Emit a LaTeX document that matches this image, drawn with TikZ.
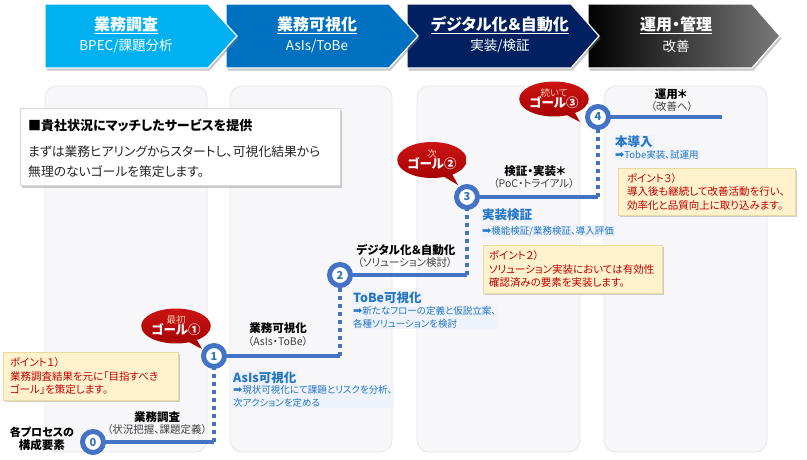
\documentclass[tikz,border=0pt]{standalone}
\usepackage{fontspec}
\setmainfont{Noto Sans CJK JP}[RawFeature=+palt]
\newfontfamily\djv{DejaVu Sans}
\usetikzlibrary{shapes.callouts,shadows}
\definecolor{chevA}{HTML}{00B0F0}
\definecolor{chevB}{HTML}{0070C0}
\definecolor{chevC}{HTML}{002060}
\definecolor{chevDr}{HTML}{7A7A7A}
\definecolor{panelfill}{HTML}{F7F7F9}
\definecolor{panelline}{HTML}{E6E6EA}
\definecolor{stepblue}{HTML}{4472C4}
\definecolor{digitblue}{HTML}{2E75B6}
\definecolor{labelblue}{HTML}{2375C5}
\definecolor{hlfill}{HTML}{EEF2FA}
\definecolor{pointfill}{HTML}{FFF2CC}
\definecolor{pointline}{HTML}{EAD9A0}
\definecolor{pointtext}{HTML}{C00000}
\definecolor{goaltop}{HTML}{CC1414}
\definecolor{goalbot}{HTML}{A00000}
\definecolor{goalsmall}{HTML}{F8CBAD}
\definecolor{subgray}{HTML}{404040}
\pgfdeclarelayer{bgfill}
\pgfdeclarelayer{back}
\pgfdeclarelayer{mid}
\pgfsetlayers{bgfill,back,mid,main}
\tikzset{
  panel/.style={fill=panelfill, draw=panelline, line width=0.8pt, rounded corners=12pt},
  chevshape/.style={draw=white, line width=1.2pt, drop shadow={shadow xshift=1.5pt, shadow yshift=-2.5pt, opacity=0.45}},
  chevtitle/.style={text=white, font=\bfseries\fontsize{16}{18}\selectfont, inner sep=0pt},
  chevsub/.style={text=white, font=\fontsize{13.5}{15}\selectfont, inner sep=0pt},
  stepline/.style={draw=stepblue, line width=4pt},
  dotline/.style={draw=stepblue, line width=4pt, dash pattern=on 4pt off 4pt},
  stepnode/.style={circle, draw=stepblue, line width=5pt, fill=white, minimum size=21pt, inner sep=0pt, text=digitblue, font=\bfseries\fontsize{11}{11}\selectfont},
  steptitle/.style={font=\bfseries\fontsize{11.5}{13}\selectfont, inner sep=0pt, align=center},
  stepsub/.style={font=\fontsize{10.5}{12}\selectfont, text=subgray, inner sep=0pt},
  bluetitle/.style={anchor=west, fill=hlfill, text=labelblue, font=\bfseries\fontsize{12.5}{14}\selectfont, inner sep=1pt},
  bluedesc/.style={anchor=west, fill=hlfill, text=labelblue, align=left, font=\fontsize{9.5}{13}\selectfont, inner sep=1pt},
  pointbox/.style={fill=pointfill, draw=pointline, line width=0.6pt, text=pointtext, align=left, font=\fontsize{10.5}{13.5}\selectfont, inner sep=0pt, drop shadow={shadow xshift=2pt, shadow yshift=-2pt, opacity=0.35}},
  goal/.style={ellipse callout, top color=goaltop, bottom color=goalbot, draw=none, inner sep=0pt, align=center, text=white},
}
\newcommand{\rarr}{{\djv\fontsize{11}{11}\selectfont ➡}}
\begin{document}
\begin{tikzpicture}[x=1pt,y=-1pt]
\useasboundingbox (0,0) rectangle (807,459);
\begin{pgfonlayer}{bgfill}
\fill[white] (0,0) rectangle (807,459);
\end{pgfonlayer}
% panels
\begin{pgfonlayer}{back}
\draw[panel] (45,86) rectangle (207,452);
\draw[panel] (230,86) rectangle (392,452);
\draw[panel] (417,86) rectangle (580,452);
\draw[panel] (604,86) rectangle (767,452);
\end{pgfonlayer}
% chevrons (right to left so tips overlap)
\path[chevshape, left color=black, right color=chevDr] (588,4) -- (752,4) -- (780,36) -- (752,68) -- (588,68) -- cycle;
\path[chevshape, fill=chevC] (407,4) -- (571,4) -- (599,36) -- (571,68) -- (407,68) -- cycle;
\path[chevshape, fill=chevB] (226,4) -- (389,4) -- (418,36) -- (389,68) -- (226,68) -- cycle;
\path[chevshape, fill=chevA] (45,4) -- (208,4) -- (237,36) -- (208,68) -- (45,68) -- cycle;
\node[chevtitle] (t1) at (126,25) {\underline{業務調査}};
\node[chevsub] (s1) at (126,46) {BPEC/課題分析};
\node[chevtitle] (t2) at (317,25) {\underline{業務可視化}};
\node[chevsub] (s2) at (317,46) {AsIs/ToBe};
\node[chevtitle] (t3) at (500,25) {\underline{デジタル化＆自動化}};
\node[chevsub] (s3) at (500,46) {実装/検証};
\node[chevtitle] (t4) at (676,25) {\underline{運用・管理}};
\node[chevsub] (s4) at (676,46) {改善};
% main box
\node[fill=white, draw=black!15, line width=0.5pt, minimum width=320pt, minimum height=77pt, inner sep=0pt, drop shadow={shadow xshift=2pt, shadow yshift=-2.5pt, opacity=0.4}] (mainbox) at (180,146.5) {};
\node[anchor=west, inner sep=0pt, font=\bfseries\fontsize{13}{15}\selectfont] (mainhead) at (28,125) {■貴社状況にマッチしたサービスを提供};
\node[anchor=west, inner sep=0pt, align=left, font=\fontsize{12.8}{20}\selectfont, text=black!85] (mainbody) at (28,162) {まずは業務ヒアリングからスタートし、可視化結果から\\無理のないゴールを策定します。};
% step nodes
\node[stepnode] (n0) at (93,442) {0};
\node[stepnode] (n1) at (214,356) {1};
\node[stepnode] (n2) at (340,275) {2};
\node[stepnode] (n3) at (467,197) {3};
\node[stepnode] (n4) at (598,117) {4};
\coordinate (e4) at (722,117);
\begin{pgfonlayer}{mid}
\draw[stepline] (n0.center) -- (n0 -| n1);
\draw[dotline] (n0 -| n1) -- (n1.center);
\draw[stepline] (n1.center) -- (n1 -| n2);
\draw[dotline] (n1 -| n2) -- (n2.center);
\draw[stepline] (n2.center) -- (n2 -| n3);
\draw[dotline] (n2 -| n3) -- (n3.center);
\draw[stepline] (n3.center) -- (n3 -| n4);
\draw[dotline] (n3 -| n4) -- (n4.center);
\draw[stepline] (n4.center) -- (e4);
\end{pgfonlayer}
% step labels
\node[steptitle] (l0c) at (42,438.5) {\fontsize{11}{13}\selectfont 各プロセスの\\構成要素};
\node[steptitle] (l0a) at (157,417) {業務調査};
\node[stepsub] (l0b) at (157,430) {（状況把握、課題定義）};
\node[steptitle] (l1a) at (278,328) {業務可視化};
\node[stepsub] (l1b) at (278,342) {（AsIs・ToBe）};
\node[steptitle] (l2a) at (406,250) {デジタル化＆自動化};
\node[stepsub] (l2b) at (405,263) {（ソリューション検討）};
\node[steptitle] (l3a) at (535,171) {検証・実装＊};
\node[stepsub] (l3b) at (534,184) {（PoC・トライアル）};
\node[steptitle] (l4a) at (671,94) {運用＊};
\node[stepsub] (l4b) at (672,107) {（改善へ）};
% blue labels
\node[bluetitle] (b1) at (232,378) {AsIs可視化};
\node[bluedesc] (b1d) at (232,396.5) {\rarr 現状可視化にて課題とリスクを分析、\\次アクションを定める};
\node[bluetitle] (b2) at (352,298) {ToBe可視化};
\node[bluedesc] (b2d) at (352,317.5) {\rarr 新たなフローの定義と仮説立案、\\各種ソリューションを検討};
\node[bluetitle] (b3) at (481,215) {実装検証};
\node[bluedesc] (b3d) at (481,231) {\rarr 機能検証/業務検証、導入評価};
\node[bluetitle] (b4) at (614,142) {本導入};
\node[bluedesc] (b4d) at (614,155) {\rarr Tobe実装、試運用};
% point boxes
\node[pointbox, minimum width=175pt, minimum height=48pt, text width=161pt] (p1) at (90.5,376) {ポイント１）\\業務調査結果を元に「目指すべき\\ゴール」を策定します。};
\node[pointbox, minimum width=179pt, minimum height=48pt, text width=167pt] (p2) at (572.5,269) {ポイント２）\\ソリューション実装においては有効性\\確認済みの要素を実装します。};
\node[pointbox, minimum width=177pt, minimum height=47pt, text width=159pt] (p3) at (706.5,191.5) {ポイント３）\\導入後も継続して改善活動を行い、\\効率化と品質向上に取り込みます。};
% goal callouts
\coordinate (g1tip) at (202,349);
\coordinate (g2tip) at (458,185);
\coordinate (g3tip) at (580,122);
\node[goal, minimum width=53pt, minimum height=35pt, callout absolute pointer={(g1tip)}] (g1) at (176,326) {{\fontsize{9.5}{10}\selectfont\color{goalsmall}最初}\\[-1pt]{\bfseries\fontsize{12.5}{14}\selectfont ゴール①}};
\node[goal, minimum width=51pt, minimum height=36pt, callout absolute pointer={(g2tip)}] (g2) at (432,160) {{\fontsize{9.5}{10}\selectfont\color{goalsmall}次}\\[-1pt]{\bfseries\fontsize{12.5}{14}\selectfont ゴール②}};
\node[goal, minimum width=52pt, minimum height=35pt, callout absolute pointer={(g3tip)}] (g3) at (554,99) {{\fontsize{9.5}{10}\selectfont\color{goalsmall}続いて}\\[-1pt]{\bfseries\fontsize{12.5}{14}\selectfont ゴール③}};
\end{tikzpicture}
\end{document}
